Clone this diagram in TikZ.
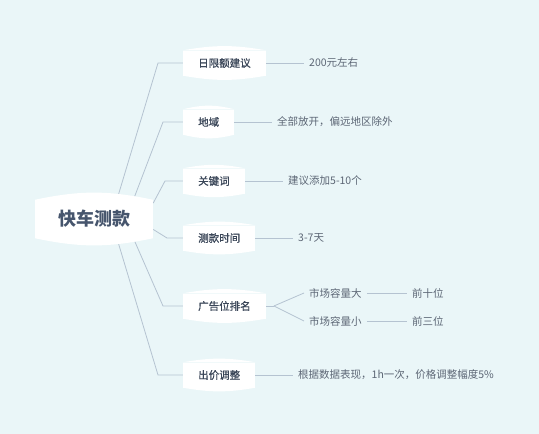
\documentclass[tikz,border=0pt]{standalone}
\usepackage{fontspec}
\setmainfont{Noto Sans CJK SC}
\newfontfamily\medfont{Noto Sans CJK SC}[FakeBold=0.8]
\usetikzlibrary{positioning}
\definecolor{bgcol}{HTML}{EAF6F8}
\definecolor{linecol}{HTML}{B5C3D1}
\definecolor{roottext}{HTML}{46556D}
\definecolor{topictext}{HTML}{3A4658}
\definecolor{leaftext}{HTML}{5C6675}
\pgfdeclarelayer{bg}
\pgfdeclarelayer{lines}
\pgfsetlayers{bg,lines,main}
\tikzset{
  root/.style={fill=white, minimum width=118pt, minimum height=38pt,
    font=\fontsize{18}{20}\selectfont\bfseries, text=roottext},
  topic/.style={fill=white, anchor=west, minimum height=25pt, inner xsep=15pt,
    font=\fontsize{10.5}{12}\medfont, text=topictext},
  leaf/.style={anchor=west, inner xsep=5pt,
    font=\fontsize{10.5}{12}\selectfont, text=leaftext},
  link/.style={draw=linecol, line width=0.8pt}
}
\begin{document}
\begin{tikzpicture}[x=1pt, y=-1pt]
% background
\begin{pgfonlayer}{bg}
\fill[bgcol] (0,0) rectangle (539,434);
\end{pgfonlayer}

% main topic and subtopics
\node[root] (test) at (94,219) {快车测款};
\node[topic] (limit) at (183,63) {日限额建议};
\node[topic] (region) at (183,122) {地域};
\node[topic] (keyword) at (183,181) {关键词};
\node[topic] (time) at (183,238) {测款时间};
\node[topic] (rank) at (183,306) {广告位排名};
\node[topic] (bid) at (183,375) {出价调整};

% bulged top and bottom edges
\foreach \n/\b in {test/12,limit/10,region/14,keyword/11,time/10,rank/10,bid/10}
  \fill[white] (\n.north west) to[bend left=\b] (\n.north east) -- cycle
               (\n.south west) to[bend right=\b] (\n.south east) -- cycle;

% details
\node[leaf] (limitval) at (304,63) {200元左右};
\node[leaf] (regionval) at (272,122) {全部放开，偏远地区除外};
\node[leaf] (keywordval) at (283,181) {建议添加5-10个};
\node[leaf] (timeval) at (293,238) {3-7天};
\node[leaf] (big) at (304,293) {市场容量大};
\node[leaf] (small) at (304,321) {市场容量小};
\node[leaf] (bigval) at (407,293) {前十位};
\node[leaf] (smallval) at (407,321) {前三位};
\node[leaf] (bidval) at (293,375) {根据数据表现，1h一次，价格调整幅度5\%};

% connectors
\begin{pgfonlayer}{lines}
\draw[link] (test.40) -- ([xshift=-25pt]limit.west) -- (limit.west);
\draw[link] (test.26) -- ([xshift=-20pt]region.west) -- (region.west);
\draw[link] (test.15) -- ([xshift=-18pt]keyword.west) -- (keyword.west);
\draw[link] (test.-10) -- ([xshift=-16pt]time.west) -- (time.west);
\draw[link] (test.-26) -- ([xshift=-20pt]rank.west) -- (rank.west);
\draw[link] (test.-40) -- ([xshift=-25pt]bid.west) -- (bid.west);
\draw[link] (limit.east) -- (limitval.west);
\draw[link] (region.east) -- (regionval.west);
\draw[link] (keyword.east) -- (keywordval.west);
\draw[link] (time.east) -- (timeval.west);
\draw[link] (rank.east) -- ++(8,0) coordinate (fork);
\draw[link] (fork) -- (big.west);
\draw[link] (fork) -- (small.west);
\draw[link] (big.east) -- (bigval.west);
\draw[link] (small.east) -- (smallval.west);
\draw[link] (bid.east) -- (bidval.west);
\end{pgfonlayer}
\end{tikzpicture}
\end{document}
